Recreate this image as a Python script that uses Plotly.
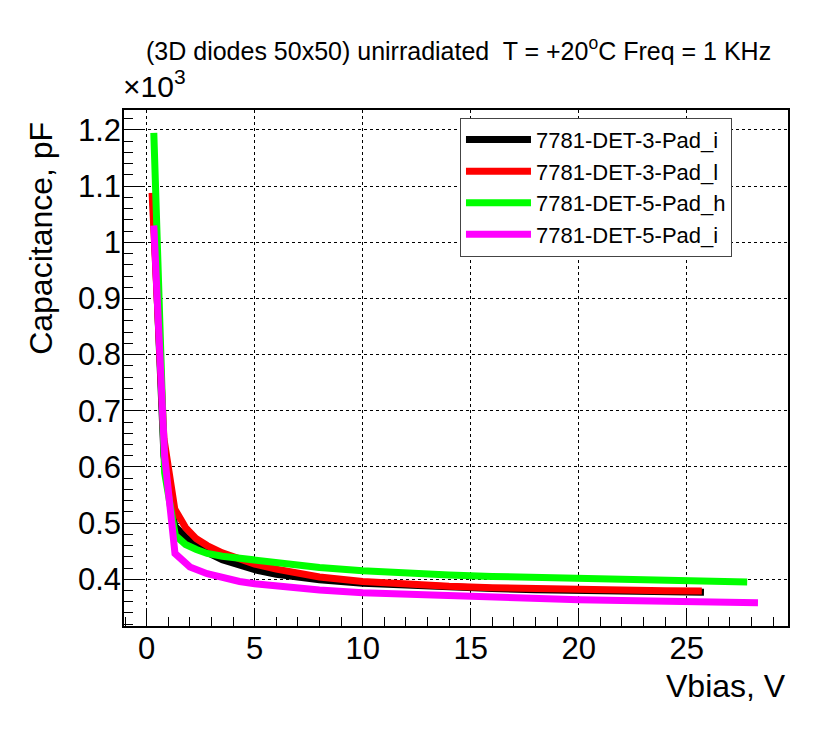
import plotly.graph_objects as go

# bias voltage (V) and capacitance (pF)
v_3i = [0.3, 0.8, 1.3, 1.8, 2.3, 2.8, 3.5, 4.3, 5, 6, 7, 8, 10, 12, 14, 16, 18, 20, 22, 24, 25.8]
c_3i = [1070, 620, 495, 475, 460, 448, 435, 424, 417, 409, 403, 399, 393, 389, 386, 383.5, 381.5, 380, 378.8, 378, 377]

v_3l = [0.25, 0.8, 1.3, 1.8, 2.3, 2.8, 3.5, 4.3, 5, 6, 7, 8, 10, 12, 14, 16, 18, 20, 22, 24, 25.7]
c_3l = [1088, 650, 525, 492, 472, 460, 447, 436, 427, 418, 410, 404, 396, 391, 387.5, 385, 383, 381.5, 380.5, 379.7, 379]

v_5h = [0.33, 0.83, 1.33, 1.8, 2.3, 2.8, 3.5, 4.3, 5, 6, 7, 8, 10, 12, 14, 16, 18, 20, 22, 24, 26, 27.8]
c_5h = [1195, 590, 478, 462, 453, 446, 441, 437, 433, 428.5, 424.5, 421, 415, 410.5, 407.5, 405, 403, 401, 399.5, 398, 396.5, 395]

v_5i = [0.33, 0.83, 1.31, 2.0, 2.8, 3.5, 4.3, 5, 6, 7, 8, 10, 12, 14, 16, 18, 20, 22, 24, 26, 28.3]
c_5i = [1030, 620, 446, 422, 410, 402, 396, 392, 388, 384, 381, 376, 373, 370, 367.5, 365.5, 363.5, 362, 361, 359.5, 358]

names = ["7781-DET-3-Pad_i", "7781-DET-3-Pad_l", "7781-DET-5-Pad_h", "7781-DET-5-Pad_i"]
colors = ["#000000", "#ff0000", "#00ff00", "#ff00ff"]

y_ticks = [0.4, 0.5, 0.6, 0.7, 0.8, 0.9, 1.0, 1.1, 1.2]
y_labels = ["0.4", "0.5", "0.6", "0.7", "0.8", "0.9", "1", "1.1", "1.2"]

FONT = "Liberation Sans, Arial, Helvetica, sans-serif"

fig = go.Figure()
for v, c, name, col in zip([v_3i, v_3l, v_5h, v_5i], [c_3i, c_3l, c_5h, c_5i], names, colors):
    fig.add_trace(go.Scatter(x=v, y=[val / 1000 for val in c], name=name, mode="lines",
                             line=dict(color=col, width=7)))

axis_common = dict(
    showline=True, linecolor="black", linewidth=1.5, mirror=True,
    ticks="inside", ticklen=18, tickwidth=1, tickcolor="black",
    showgrid=True, gridcolor="black", griddash="dot", gridwidth=1,
    zeroline=False, automargin=False,
    tickfont=dict(size=31, family=FONT, color="black"),
)

fig.update_xaxes(range=[-1.05, 29.69], dtick=5, tick0=0, ticklabelstandoff=-6,
                 minor=dict(ticks="inside", ticklen=9, dtick=1, tickcolor="black", tickwidth=1, showgrid=False),
                 **axis_common)
fig.update_yaxes(range=[0.3168, 1.2356], tickvals=y_ticks, ticktext=y_labels, ticklabelstandoff=-5,
                 minor=dict(ticks="inside", ticklen=9, dtick=0.02, tick0=0, tickcolor="black", tickwidth=1, showgrid=False),
                 **axis_common)

# page body adds an 8px margin, so the figure is 8px smaller each way
fig.update_layout(
    width=822, height=729,
    margin=dict(l=116, r=42, t=102, b=111),
    plot_bgcolor="white", paper_bgcolor="white",
    font=dict(family=FONT, color="black"),
    showlegend=True,
    legend=dict(x=0.506, y=0.985, xanchor="left", yanchor="top",
                bgcolor="white", bordercolor="#444444", borderwidth=1,
                itemwidth=65, entrywidth=288, entrywidthmode="pixels",
                font=dict(size=22, family=FONT, color="black")),
    annotations=[
        dict(text="(3D diodes 50x50) unirradiated  T = +20<sup>o</sup>C Freq = 1 KHz",
             xref="paper", yref="paper", x=0.5045, y=1.118, xanchor="center", yanchor="middle",
             showarrow=False, font=dict(size=25)),
        dict(text="\u00d710<sup>3</sup>", xref="paper", yref="paper", x=-0.004, y=1.0097,
             xanchor="left", yanchor="bottom", showarrow=False, font=dict(size=30)),
        dict(text="Capacitance, pF", xref="paper", yref="paper", x=-0.126, y=0.9806,
             xanchor="center", yanchor="top", textangle=-90, showarrow=False, font=dict(size=32)),
        dict(text="Vbias, V", xref="paper", yref="paper", x=1.0, y=-0.117,
             xanchor="right", yanchor="middle", showarrow=False, font=dict(size=32)),
    ],
)

fig.write_html("out.html")
